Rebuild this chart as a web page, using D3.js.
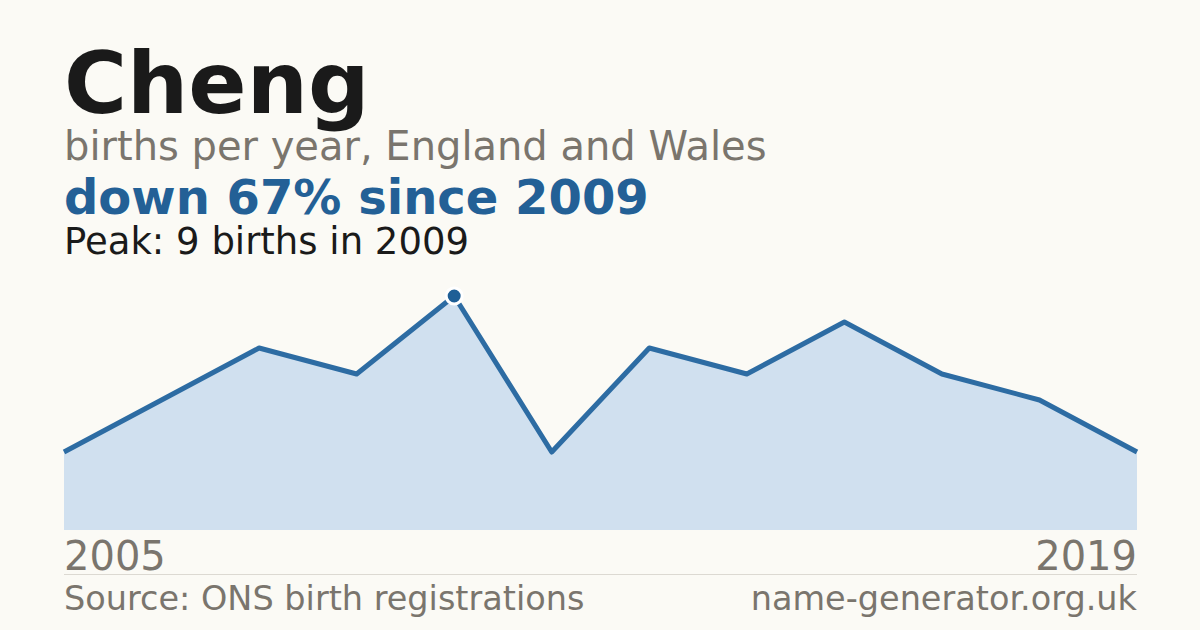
<!DOCTYPE html>
<html>
<head>
    <meta charset="utf-8">
    <style>
        body {
            margin: 0;
            background: #fbfaf5;
        }
        svg {
            display: block;
            font-family: "DejaVu Sans", sans-serif;
        }
        .grey {
            fill: #7a756d;
        }
    </style>
</head>
<body>
    <svg width="1200" height="630"></svg>

<script src="https://d3js.org/d3.v7.min.js"></script>
<script>

    // births per year (years with too few births are not published)
    let years = [2005, 2006, 2007, 2008, 2009, 2010, 2011, 2013, 2014, 2016, 2018, 2019]
    let births = [3, 5, 7, 6, 9, 3, 7, 6, 8, 6, 5, 3]

    let data = years.map(function (y, i) {
        return { year: y, births: births[i] }
    })

    let width = 1200
    let height = 630
    let margin = { left: 64, right: 63 }

    let svg = d3.select("svg")

    svg.append("rect")
        .attr("width", width)
        .attr("height", height)
        .attr("fill", "#fbfaf5")

    let x = d3.scalePoint()
        .domain(years)
        .range([margin.left, width - margin.right])

    let y = d3.scaleLinear()
        .domain([0, d3.max(births)])
        .range([530, 296])

    let peak = data.reduce(function (a, b) { return b.births > a.births ? b : a })
    let last = data[data.length - 1]
    let change = Math.round((1 - last.births / peak.births) * 100)

    // area under the line
    let area = d3.area()
        .x(function (d) { return x(d.year) })
        .y0(y(0))
        .y1(function (d) { return y(d.births) })

    svg.append("path")
        .datum(data)
        .attr("d", area)
        .attr("fill", "#d0e0ef")

    let line = d3.line()
        .x(function (d) { return x(d.year) })
        .y(function (d) { return y(d.births) })

    svg.append("path")
        .datum(data)
        .attr("d", line)
        .attr("fill", "none")
        .attr("stroke", "#2d6ca3")
        .attr("stroke-width", 5)
        .attr("stroke-linejoin", "round")

    // marker on the peak year
    svg.append("circle")
        .attr("cx", x(peak.year))
        .attr("cy", y(peak.births))
        .attr("r", 8)
        .attr("fill", "#1f5f96")
        .attr("stroke", "#ffffff")
        .attr("stroke-width", 3)

    // headings
    svg.append("text")
        .attr("x", 64)
        .attr("y", 113)
        .style("font-size", "86px")
        .style("font-weight", "bold")
        .style("fill", "#1a1a1a")
        .text("Cheng")

    svg.append("text")
        .attr("class", "grey")
        .attr("x", 64)
        .attr("y", 160)
        .style("font-size", "40px")
        .text("births per year, England and Wales")

    svg.append("text")
        .attr("x", 64)
        .attr("y", 214)
        .style("font-size", "48px")
        .style("font-weight", "bold")
        .style("fill", "#236096")
        .text("down " + change + "% since " + peak.year)

    svg.append("text")
        .attr("x", 64)
        .attr("y", 254)
        .style("font-size", "37px")
        .style("fill", "#1a1a1a")
        .text("Peak: " + peak.births + " births in " + peak.year)

    // first and last year
    svg.append("text")
        .attr("class", "grey")
        .attr("x", x(years[0]))
        .attr("y", 570)
        .style("font-size", "40px")
        .text(years[0])

    svg.append("text")
        .attr("class", "grey")
        .attr("x", x(last.year))
        .attr("y", 570)
        .attr("text-anchor", "end")
        .style("font-size", "40px")
        .text(last.year)

    svg.append("line")
        .attr("x1", margin.left)
        .attr("x2", width - margin.right)
        .attr("y1", 574.5)
        .attr("y2", 574.5)
        .attr("stroke", "#dcd9d2")
        .attr("stroke-width", 1)

    svg.append("text")
        .attr("class", "grey")
        .attr("x", margin.left)
        .attr("y", 610)
        .style("font-size", "33.5px")
        .text("Source: ONS birth registrations")

    svg.append("text")
        .attr("class", "grey")
        .attr("x", width - margin.right)
        .attr("y", 610)
        .attr("text-anchor", "end")
        .style("font-size", "33.5px")
        .text("name-generator.org.uk")

</script>
</body>
</html>
